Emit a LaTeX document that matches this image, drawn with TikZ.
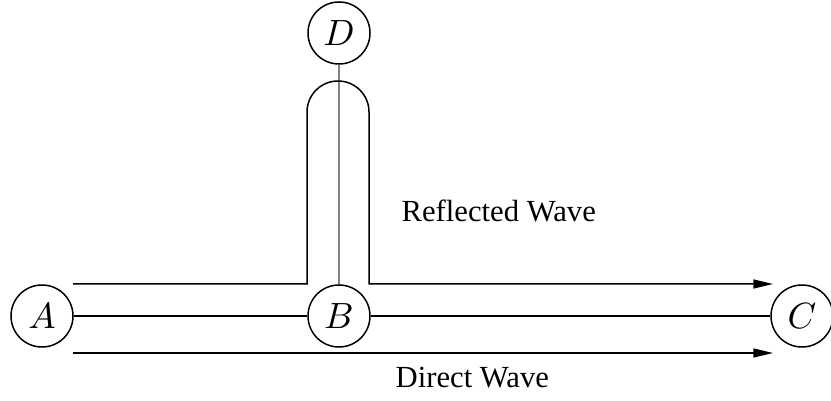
\documentclass[tikz,border=0pt]{standalone}
\usepackage{fontspec}
\setmainfont{Liberation Serif}
\usepackage{tikz}
\usetikzlibrary{arrows.meta, positioning}

\begin{document}
\begin{tikzpicture}[
    x=0.3pt, y=-0.3pt,
    station/.style={draw, circle, line width=0.45pt, minimum size=18.6pt,
                    inner sep=0pt, font=\fontsize{10.5pt}{12pt}\selectfont},
    wavelabel/.style={anchor=base west, inner sep=0pt,
                      font=\fontsize{9.2pt}{11pt}\selectfont},
    wave/.style={line width=0.45pt},
    arr/.style={-{Triangle[length=5.9pt, width=2.7pt]}, line width=0.45pt},
  ]
  \useasboundingbox (0,0) rectangle (831,401);

  \node[station] (A) at (42,316) {$A$};
  \node[station] (B) at (339,316) {$B$};
  \node[station] (C) at (802,316) {$C$};
  \node[station] (D) at (339,33) {$D$};

  % link lines
  \draw[wave] (A) -- (B);
  \draw[wave] (B) -- (C);
  \draw[line width=0.45pt, gray] (B) -- (D);

  % wave paths
  \coordinate (reflstart) at (73,284);
  \coordinate (reflend) at (773,284);
  \coordinate (dirstart) at (73,353);
  \coordinate (dirend) at (773,353);

  \draw[arr] (reflstart) -- (307,284) -- (307,112)
    arc[start angle=180, end angle=360, radius=31] -- (369,284) -- (reflend);
  \draw[arr] (dirstart) -- (dirend);

  \node[wavelabel] (refl) at (401,222) {Reflected Wave};
  \node[wavelabel] (direct) at (395,387) {Direct Wave};
\end{tikzpicture}
\end{document}
